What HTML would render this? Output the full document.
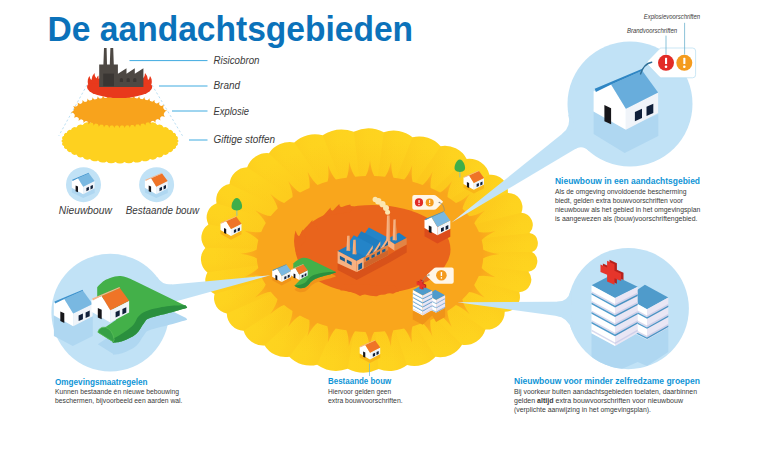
<!DOCTYPE html>
<html lang="nl"><head><meta charset="utf-8"><title>De aandachtsgebieden</title>
<style>
html,body{margin:0;padding:0;background:#fff;}
body{width:770px;height:450px;overflow:hidden;font-family:"Liberation Sans",sans-serif;}
svg{display:block;}
</style></head><body>
<svg width="770" height="450" viewBox="0 0 770 450" font-family="'Liberation Sans', sans-serif">
<defs>
<radialGradient id="gy" cx="370" cy="251" r="1" gradientUnits="userSpaceOnUse" gradientTransform="translate(370 251) scale(170 122) translate(-370 -251)"><stop offset="0.66" stop-color="#fdcc1d"/><stop offset="0.92" stop-color="#fed41f"/></radialGradient>
<linearGradient id="b1" x1="170" y1="295" x2="272" y2="276" gradientUnits="userSpaceOnUse"><stop offset="0" stop-color="#c1e2f6"/><stop offset="0.75" stop-color="#c1e2f6"/><stop offset="1" stop-color="#d9edf9"/></linearGradient>
<linearGradient id="b2" x1="575" y1="134" x2="452" y2="221" gradientUnits="userSpaceOnUse"><stop offset="0" stop-color="#c1e2f6"/><stop offset="0.75" stop-color="#c1e2f6"/><stop offset="1" stop-color="#d9edf9"/></linearGradient>
<linearGradient id="b3" x1="568" y1="312" x2="456" y2="301" gradientUnits="userSpaceOnUse"><stop offset="0" stop-color="#c1e2f6"/><stop offset="0.75" stop-color="#c1e2f6"/><stop offset="1" stop-color="#d9edf9"/></linearGradient>
<radialGradient id="gs" cx="370" cy="254" r="1" gradientUnits="userSpaceOnUse" gradientTransform="translate(370 254) scale(130.5 95) translate(-370 -254)"><stop offset="0.86" stop-color="#f9a61c"/><stop offset="1" stop-color="#fcba1d"/></radialGradient>
</defs>
<circle cx="110.2" cy="312.6" r="58.8" fill="#c1e2f6"/>
<circle cx="630" cy="104" r="62.5" fill="#c1e2f6"/>
<circle cx="628.3" cy="308.6" r="60.6" fill="#c1e2f6"/>
<path d="M353.8,131.8A35.3,35.3 0 0 0 322.7,135.3A29.9,29.9 0 0 0 294.3,142.5A25.2,25.2 0 0 0 269,153.2A21.2,21.2 0 0 0 247.2,167.2A18.1,18.1 0 0 0 229.6,184A16,16 0 0 0 216.6,203.2A15,15 0 0 0 208.4,224.4A15.7,15.7 0 0 0 205.3,247.9A16.7,16.7 0 0 0 207.4,272.4A14.9,14.9 0 0 0 214.6,293.9A15.7,15.7 0 0 0 226.8,313.6A17.6,17.6 0 0 0 243.6,330.8A20.6,20.6 0 0 0 264.6,345.4A24.4,24.4 0 0 0 289.3,356.8A29,29 0 0 0 317.1,364.7A34.2,34.2 0 0 0 347.7,368.8A34.7,34.7 0 0 0 378.6,369.1A29.7,29.7 0 0 0 407.1,365.1A29,29 0 0 0 435.5,356.8A25.5,25.5 0 0 0 462,344.8A21.4,21.4 0 0 0 485.4,329.5A17.7,17.7 0 0 0 504.7,311.7A14.8,14.8 0 0 0 519.2,292.2A12.5,12.5 0 0 0 528.4,271.8A10.6,10.6 0 0 0 531.9,252.1A10,10 0 0 0 529.5,233.1A12.2,12.2 0 0 0 521.4,212.7A14.3,14.3 0 0 0 507.9,192.9A17.1,17.1 0 0 0 489.4,174.7A20.7,20.7 0 0 0 466.7,158.9A24.8,24.8 0 0 0 440.7,146.2A28.5,28.5 0 0 0 412.5,137.2A30,30 0 0 0 383.8,132.3A32.8,32.8 0 0 0 353.8,131.8Z" fill="url(#gy)"/>
<linearGradient id="p0" gradientUnits="userSpaceOnUse" x1="353.8" y1="131.8" x2="322.7" y2="135.3"><stop offset="0" stop-color="#f8b517" stop-opacity="0"/><stop offset="0.55" stop-color="#f8b517" stop-opacity="0.04"/><stop offset="1" stop-color="#f8b517" stop-opacity="0.17"/></linearGradient>
<linearGradient id="p1" gradientUnits="userSpaceOnUse" x1="322.7" y1="135.3" x2="294.3" y2="142.5"><stop offset="0" stop-color="#f8b517" stop-opacity="0"/><stop offset="0.55" stop-color="#f8b517" stop-opacity="0.04"/><stop offset="1" stop-color="#f8b517" stop-opacity="0.17"/></linearGradient>
<linearGradient id="p2" gradientUnits="userSpaceOnUse" x1="294.3" y1="142.5" x2="269" y2="153.2"><stop offset="0" stop-color="#f8b517" stop-opacity="0"/><stop offset="0.55" stop-color="#f8b517" stop-opacity="0.04"/><stop offset="1" stop-color="#f8b517" stop-opacity="0.17"/></linearGradient>
<linearGradient id="p3" gradientUnits="userSpaceOnUse" x1="269" y1="153.2" x2="247.2" y2="167.2"><stop offset="0" stop-color="#f8b517" stop-opacity="0"/><stop offset="0.55" stop-color="#f8b517" stop-opacity="0.04"/><stop offset="1" stop-color="#f8b517" stop-opacity="0.17"/></linearGradient>
<linearGradient id="p4" gradientUnits="userSpaceOnUse" x1="247.2" y1="167.2" x2="229.6" y2="184"><stop offset="0" stop-color="#f8b517" stop-opacity="0"/><stop offset="0.55" stop-color="#f8b517" stop-opacity="0.04"/><stop offset="1" stop-color="#f8b517" stop-opacity="0.17"/></linearGradient>
<linearGradient id="p5" gradientUnits="userSpaceOnUse" x1="229.6" y1="184" x2="216.6" y2="203.2"><stop offset="0" stop-color="#f8b517" stop-opacity="0"/><stop offset="0.55" stop-color="#f8b517" stop-opacity="0.04"/><stop offset="1" stop-color="#f8b517" stop-opacity="0.17"/></linearGradient>
<linearGradient id="p6" gradientUnits="userSpaceOnUse" x1="216.6" y1="203.2" x2="208.4" y2="224.4"><stop offset="0" stop-color="#f8b517" stop-opacity="0"/><stop offset="0.55" stop-color="#f8b517" stop-opacity="0.04"/><stop offset="1" stop-color="#f8b517" stop-opacity="0.17"/></linearGradient>
<linearGradient id="p7" gradientUnits="userSpaceOnUse" x1="208.4" y1="224.4" x2="205.3" y2="247.9"><stop offset="0" stop-color="#f8b517" stop-opacity="0"/><stop offset="0.55" stop-color="#f8b517" stop-opacity="0.04"/><stop offset="1" stop-color="#f8b517" stop-opacity="0.17"/></linearGradient>
<linearGradient id="p8" gradientUnits="userSpaceOnUse" x1="205.3" y1="247.9" x2="207.4" y2="272.4"><stop offset="0" stop-color="#f8b517" stop-opacity="0"/><stop offset="0.55" stop-color="#f8b517" stop-opacity="0.04"/><stop offset="1" stop-color="#f8b517" stop-opacity="0.17"/></linearGradient>
<linearGradient id="p9" gradientUnits="userSpaceOnUse" x1="207.4" y1="272.4" x2="214.6" y2="293.9"><stop offset="0" stop-color="#f8b517" stop-opacity="0"/><stop offset="0.55" stop-color="#f8b517" stop-opacity="0.04"/><stop offset="1" stop-color="#f8b517" stop-opacity="0.17"/></linearGradient>
<linearGradient id="p10" gradientUnits="userSpaceOnUse" x1="214.6" y1="293.9" x2="226.8" y2="313.6"><stop offset="0" stop-color="#f8b517" stop-opacity="0"/><stop offset="0.55" stop-color="#f8b517" stop-opacity="0.04"/><stop offset="1" stop-color="#f8b517" stop-opacity="0.17"/></linearGradient>
<linearGradient id="p11" gradientUnits="userSpaceOnUse" x1="226.8" y1="313.6" x2="243.6" y2="330.8"><stop offset="0" stop-color="#f8b517" stop-opacity="0"/><stop offset="0.55" stop-color="#f8b517" stop-opacity="0.04"/><stop offset="1" stop-color="#f8b517" stop-opacity="0.17"/></linearGradient>
<linearGradient id="p12" gradientUnits="userSpaceOnUse" x1="243.6" y1="330.8" x2="264.6" y2="345.4"><stop offset="0" stop-color="#f8b517" stop-opacity="0"/><stop offset="0.55" stop-color="#f8b517" stop-opacity="0.04"/><stop offset="1" stop-color="#f8b517" stop-opacity="0.17"/></linearGradient>
<linearGradient id="p13" gradientUnits="userSpaceOnUse" x1="264.6" y1="345.4" x2="289.3" y2="356.8"><stop offset="0" stop-color="#f8b517" stop-opacity="0"/><stop offset="0.55" stop-color="#f8b517" stop-opacity="0.04"/><stop offset="1" stop-color="#f8b517" stop-opacity="0.17"/></linearGradient>
<linearGradient id="p14" gradientUnits="userSpaceOnUse" x1="289.3" y1="356.8" x2="317.1" y2="364.7"><stop offset="0" stop-color="#f8b517" stop-opacity="0"/><stop offset="0.55" stop-color="#f8b517" stop-opacity="0.04"/><stop offset="1" stop-color="#f8b517" stop-opacity="0.17"/></linearGradient>
<linearGradient id="p15" gradientUnits="userSpaceOnUse" x1="317.1" y1="364.7" x2="347.7" y2="368.8"><stop offset="0" stop-color="#f8b517" stop-opacity="0"/><stop offset="0.55" stop-color="#f8b517" stop-opacity="0.04"/><stop offset="1" stop-color="#f8b517" stop-opacity="0.17"/></linearGradient>
<linearGradient id="p16" gradientUnits="userSpaceOnUse" x1="347.7" y1="368.8" x2="378.6" y2="369.1"><stop offset="0" stop-color="#f8b517" stop-opacity="0"/><stop offset="0.55" stop-color="#f8b517" stop-opacity="0.04"/><stop offset="1" stop-color="#f8b517" stop-opacity="0.17"/></linearGradient>
<linearGradient id="p17" gradientUnits="userSpaceOnUse" x1="378.6" y1="369.1" x2="407.1" y2="365.1"><stop offset="0" stop-color="#f8b517" stop-opacity="0"/><stop offset="0.55" stop-color="#f8b517" stop-opacity="0.04"/><stop offset="1" stop-color="#f8b517" stop-opacity="0.17"/></linearGradient>
<linearGradient id="p18" gradientUnits="userSpaceOnUse" x1="407.1" y1="365.1" x2="435.5" y2="356.8"><stop offset="0" stop-color="#f8b517" stop-opacity="0"/><stop offset="0.55" stop-color="#f8b517" stop-opacity="0.04"/><stop offset="1" stop-color="#f8b517" stop-opacity="0.17"/></linearGradient>
<linearGradient id="p19" gradientUnits="userSpaceOnUse" x1="435.5" y1="356.8" x2="462" y2="344.8"><stop offset="0" stop-color="#f8b517" stop-opacity="0"/><stop offset="0.55" stop-color="#f8b517" stop-opacity="0.04"/><stop offset="1" stop-color="#f8b517" stop-opacity="0.17"/></linearGradient>
<linearGradient id="p20" gradientUnits="userSpaceOnUse" x1="462" y1="344.8" x2="485.4" y2="329.5"><stop offset="0" stop-color="#f8b517" stop-opacity="0"/><stop offset="0.55" stop-color="#f8b517" stop-opacity="0.04"/><stop offset="1" stop-color="#f8b517" stop-opacity="0.17"/></linearGradient>
<linearGradient id="p21" gradientUnits="userSpaceOnUse" x1="485.4" y1="329.5" x2="504.7" y2="311.7"><stop offset="0" stop-color="#f8b517" stop-opacity="0"/><stop offset="0.55" stop-color="#f8b517" stop-opacity="0.04"/><stop offset="1" stop-color="#f8b517" stop-opacity="0.17"/></linearGradient>
<linearGradient id="p22" gradientUnits="userSpaceOnUse" x1="504.7" y1="311.7" x2="519.2" y2="292.2"><stop offset="0" stop-color="#f8b517" stop-opacity="0"/><stop offset="0.55" stop-color="#f8b517" stop-opacity="0.04"/><stop offset="1" stop-color="#f8b517" stop-opacity="0.17"/></linearGradient>
<linearGradient id="p23" gradientUnits="userSpaceOnUse" x1="519.2" y1="292.2" x2="528.4" y2="271.8"><stop offset="0" stop-color="#f8b517" stop-opacity="0"/><stop offset="0.55" stop-color="#f8b517" stop-opacity="0.04"/><stop offset="1" stop-color="#f8b517" stop-opacity="0.17"/></linearGradient>
<linearGradient id="p24" gradientUnits="userSpaceOnUse" x1="528.4" y1="271.8" x2="531.9" y2="252.1"><stop offset="0" stop-color="#f8b517" stop-opacity="0"/><stop offset="0.55" stop-color="#f8b517" stop-opacity="0.04"/><stop offset="1" stop-color="#f8b517" stop-opacity="0.17"/></linearGradient>
<linearGradient id="p25" gradientUnits="userSpaceOnUse" x1="531.9" y1="252.1" x2="529.5" y2="233.1"><stop offset="0" stop-color="#f8b517" stop-opacity="0"/><stop offset="0.55" stop-color="#f8b517" stop-opacity="0.04"/><stop offset="1" stop-color="#f8b517" stop-opacity="0.17"/></linearGradient>
<linearGradient id="p26" gradientUnits="userSpaceOnUse" x1="529.5" y1="233.1" x2="521.4" y2="212.7"><stop offset="0" stop-color="#f8b517" stop-opacity="0"/><stop offset="0.55" stop-color="#f8b517" stop-opacity="0.04"/><stop offset="1" stop-color="#f8b517" stop-opacity="0.17"/></linearGradient>
<linearGradient id="p27" gradientUnits="userSpaceOnUse" x1="521.4" y1="212.7" x2="507.9" y2="192.9"><stop offset="0" stop-color="#f8b517" stop-opacity="0"/><stop offset="0.55" stop-color="#f8b517" stop-opacity="0.04"/><stop offset="1" stop-color="#f8b517" stop-opacity="0.17"/></linearGradient>
<linearGradient id="p28" gradientUnits="userSpaceOnUse" x1="507.9" y1="192.9" x2="489.4" y2="174.7"><stop offset="0" stop-color="#f8b517" stop-opacity="0"/><stop offset="0.55" stop-color="#f8b517" stop-opacity="0.04"/><stop offset="1" stop-color="#f8b517" stop-opacity="0.17"/></linearGradient>
<linearGradient id="p29" gradientUnits="userSpaceOnUse" x1="489.4" y1="174.7" x2="466.7" y2="158.9"><stop offset="0" stop-color="#f8b517" stop-opacity="0"/><stop offset="0.55" stop-color="#f8b517" stop-opacity="0.04"/><stop offset="1" stop-color="#f8b517" stop-opacity="0.17"/></linearGradient>
<linearGradient id="p30" gradientUnits="userSpaceOnUse" x1="466.7" y1="158.9" x2="440.7" y2="146.2"><stop offset="0" stop-color="#f8b517" stop-opacity="0"/><stop offset="0.55" stop-color="#f8b517" stop-opacity="0.04"/><stop offset="1" stop-color="#f8b517" stop-opacity="0.17"/></linearGradient>
<linearGradient id="p31" gradientUnits="userSpaceOnUse" x1="440.7" y1="146.2" x2="412.5" y2="137.2"><stop offset="0" stop-color="#f8b517" stop-opacity="0"/><stop offset="0.55" stop-color="#f8b517" stop-opacity="0.04"/><stop offset="1" stop-color="#f8b517" stop-opacity="0.17"/></linearGradient>
<linearGradient id="p32" gradientUnits="userSpaceOnUse" x1="412.5" y1="137.2" x2="383.8" y2="132.3"><stop offset="0" stop-color="#f8b517" stop-opacity="0"/><stop offset="0.55" stop-color="#f8b517" stop-opacity="0.04"/><stop offset="1" stop-color="#f8b517" stop-opacity="0.17"/></linearGradient>
<linearGradient id="p33" gradientUnits="userSpaceOnUse" x1="383.8" y1="132.3" x2="353.8" y2="131.8"><stop offset="0" stop-color="#f8b517" stop-opacity="0"/><stop offset="0.55" stop-color="#f8b517" stop-opacity="0.04"/><stop offset="1" stop-color="#f8b517" stop-opacity="0.17"/></linearGradient>
<clipPath id="cb"><path d="M353.8,131.8A35.3,35.3 0 0 0 322.7,135.3A29.9,29.9 0 0 0 294.3,142.5A25.2,25.2 0 0 0 269,153.2A21.2,21.2 0 0 0 247.2,167.2A18.1,18.1 0 0 0 229.6,184A16,16 0 0 0 216.6,203.2A15,15 0 0 0 208.4,224.4A15.7,15.7 0 0 0 205.3,247.9A16.7,16.7 0 0 0 207.4,272.4A14.9,14.9 0 0 0 214.6,293.9A15.7,15.7 0 0 0 226.8,313.6A17.6,17.6 0 0 0 243.6,330.8A20.6,20.6 0 0 0 264.6,345.4A24.4,24.4 0 0 0 289.3,356.8A29,29 0 0 0 317.1,364.7A34.2,34.2 0 0 0 347.7,368.8A34.7,34.7 0 0 0 378.6,369.1A29.7,29.7 0 0 0 407.1,365.1A29,29 0 0 0 435.5,356.8A25.5,25.5 0 0 0 462,344.8A21.4,21.4 0 0 0 485.4,329.5A17.7,17.7 0 0 0 504.7,311.7A14.8,14.8 0 0 0 519.2,292.2A12.5,12.5 0 0 0 528.4,271.8A10.6,10.6 0 0 0 531.9,252.1A10,10 0 0 0 529.5,233.1A12.2,12.2 0 0 0 521.4,212.7A14.3,14.3 0 0 0 507.9,192.9A17.1,17.1 0 0 0 489.4,174.7A20.7,20.7 0 0 0 466.7,158.9A24.8,24.8 0 0 0 440.7,146.2A28.5,28.5 0 0 0 412.5,137.2A30,30 0 0 0 383.8,132.3A32.8,32.8 0 0 0 353.8,131.8Z"/></clipPath>
<g clip-path="url(#cb)"><polygon points="352.7,122.3 319.1,126 339.9,179.1 359.2,176.9" fill="url(#p0)"/><polygon points="319.1,126 288.4,133.8 322.3,183.5 339.9,179.1" fill="url(#p1)"/><polygon points="288.4,133.8 261.1,145.4 306.6,190.2 322.3,183.5" fill="url(#p2)"/><polygon points="261.1,145.4 237.6,160.5 293.1,198.8 306.6,190.2" fill="url(#p3)"/><polygon points="237.6,160.5 218.5,178.7 282.2,209.3 293.1,198.8" fill="url(#p4)"/><polygon points="218.5,178.7 204.4,199.4 274.1,221.2 282.2,209.3" fill="url(#p5)"/><polygon points="204.4,199.4 195.6,222.3 269,234.3 274.1,221.2" fill="url(#p6)"/><polygon points="195.6,222.3 192.3,247.7 267.1,248.9 269,234.3" fill="url(#p7)"/><polygon points="192.3,247.7 194.6,274.1 268.4,264 267.1,248.9" fill="url(#p8)"/><polygon points="194.6,274.1 202.4,297.4 272.9,277.4 268.4,264" fill="url(#p9)"/><polygon points="202.4,297.4 215.5,318.6 280.4,289.6 272.9,277.4" fill="url(#p10)"/><polygon points="215.5,318.6 233.6,337.3 290.9,300.3 280.4,289.6" fill="url(#p11)"/><polygon points="233.6,337.3 256.3,353 303.9,309.3 290.9,300.3" fill="url(#p12)"/><polygon points="256.3,353 283,365.3 319.2,316.4 303.9,309.3" fill="url(#p13)"/><polygon points="283,365.3 313,373.8 336.5,321.3 319.2,316.4" fill="url(#p14)"/><polygon points="313,373.8 346.1,378.3 355.4,323.9 336.5,321.3" fill="url(#p15)"/><polygon points="346.1,378.3 379.4,378.6 374.5,324 355.4,323.9" fill="url(#p16)"/><polygon points="379.4,378.6 410.2,374.3 392.2,321.5 374.5,324" fill="url(#p17)"/><polygon points="410.2,374.3 440.9,365.3 409.9,316.4 392.2,321.5" fill="url(#p18)"/><polygon points="440.9,365.3 469.5,352.3 426.3,309 409.9,316.4" fill="url(#p19)"/><polygon points="469.5,352.3 494.8,335.8 440.8,299.5 426.3,309" fill="url(#p20)"/><polygon points="494.8,335.8 515.7,316.6 452.8,288.5 440.8,299.5" fill="url(#p21)"/><polygon points="515.7,316.6 531.3,295.5 461.8,276.3 452.8,288.5" fill="url(#p22)"/><polygon points="531.3,295.5 541.2,273.5 467.5,263.7 461.8,276.3" fill="url(#p23)"/><polygon points="541.2,273.5 545,252.2 469.6,251.5 467.5,263.7" fill="url(#p24)"/><polygon points="545,252.2 542.4,231.7 468.1,239.7 469.6,251.5" fill="url(#p25)"/><polygon points="542.4,231.7 533.7,209.6 463.1,227 468.1,239.7" fill="url(#p26)"/><polygon points="533.7,209.6 519.1,188.3 454.7,214.8 463.1,227" fill="url(#p27)"/><polygon points="519.1,188.3 499.1,168.6 443.3,203.5 454.7,214.8" fill="url(#p28)"/><polygon points="499.1,168.6 474.6,151.5 429.2,193.7 443.3,203.5" fill="url(#p29)"/><polygon points="474.6,151.5 446.5,137.8 413.1,185.8 429.2,193.7" fill="url(#p30)"/><polygon points="446.5,137.8 416.1,128.1 395.6,180.2 413.1,185.8" fill="url(#p31)"/><polygon points="416.1,128.1 385.1,122.8 377.8,177.2 395.6,180.2" fill="url(#p32)"/><polygon points="385.1,122.8 352.7,122.3 359.2,176.9 377.8,177.2" fill="url(#p33)"/></g>
<path d="M374.3,176.1Q371.3,171.2 370,160Q368.7,171.2 365.7,176.1A113.5,78 0 0 0 355.2,176.7Q351.6,172.2 349,161.2Q349,172.5 346.6,177.7A113.5,78 0 0 0 335.9,179.6Q331.9,175.6 327.9,165Q329.3,176.2 327.6,181.6A113.5,78 0 0 0 317.5,184.9Q312.9,181.4 307.5,171.5Q310.4,182.4 309.5,188A113.5,78 0 0 0 300.1,192.6Q295,189.9 288.2,180.9Q292.7,191.2 292.6,196.9A113.5,78 0 0 0 284.1,203Q278.7,201.3 270.3,193.7Q276.6,203 277.7,208.6A113.5,78 0 0 0 270.8,216.1Q265.1,215.7 255.2,210.2Q263.5,217.9 265.8,223.1A113.5,78 0 0 0 261.2,231.9Q255.5,233 244.5,230.7Q254.6,235.7 258.3,240A113.5,78 0 0 0 256.7,249.6Q251.7,252.4 240.5,253.8Q251.7,255.3 256.7,258.2A113.5,78 0 0 0 258.3,267.9Q254.6,272.2 244.4,277.1Q255.5,274.8 261.1,276A113.5,78 0 0 0 265.7,284.8Q263.4,290 255,297.6Q265,292.2 270.7,291.8A113.5,78 0 0 0 277.5,299.2Q276.5,304.8 270.1,314.2Q278.5,306.6 284,304.9A113.5,78 0 0 0 292.5,311Q292.5,316.7 288,327Q294.9,318 299.9,315.4A113.5,78 0 0 0 309.3,319.9Q310.2,325.5 307.3,336.4Q312.7,326.5 317.3,323.1A113.5,78 0 0 0 327.4,326.3Q329.1,331.7 327.7,342.9Q331.7,332.4 335.8,328.4A113.5,78 0 0 0 346.4,330.3Q348.8,335.5 348.8,346.8Q351.4,335.8 355,331.3A113.5,78 0 0 0 365.5,331.9Q368.5,336.8 369.8,348Q371.1,336.8 374.1,331.9A113.5,78 0 0 0 384.8,331.3Q388.4,335.8 391,346.8Q391,335.5 393.4,330.3A113.5,78 0 0 0 404.1,328.4Q408.1,332.4 412.1,343Q410.7,331.8 412.4,326.4A113.5,78 0 0 0 422.5,323.1Q427.1,326.6 432.5,336.5Q429.6,325.6 430.5,320A113.5,78 0 0 0 439.9,315.4Q445,318.1 451.8,327.1Q447.3,316.8 447.4,311.1A113.5,78 0 0 0 455.9,305Q461.3,306.7 469.7,314.3Q463.4,305 462.3,299.4A113.5,78 0 0 0 469.2,291.9Q474.9,292.3 484.8,297.8Q476.5,290.1 474.2,284.9A113.5,78 0 0 0 478.8,276.1Q484.5,275 495.5,277.3Q485.4,272.3 481.7,268A113.5,78 0 0 0 483.3,258.3Q488.3,255.4 499.5,254Q488.3,252.6 483.3,249.7A113.5,78 0 0 0 481.7,240.1Q485.4,235.8 495.6,230.9Q484.5,233.2 478.9,232A113.5,78 0 0 0 474.3,223.2Q476.6,218 485,210.4Q475,215.8 469.3,216.2A113.5,78 0 0 0 462.5,208.8Q463.5,203.2 469.9,193.8Q461.5,201.4 456,203.1A113.5,78 0 0 0 447.5,197Q447.5,191.3 452,181Q445.1,190 440.1,192.6A113.5,78 0 0 0 430.7,188.1Q429.8,182.5 432.7,171.6Q427.3,181.5 422.7,184.9A113.5,78 0 0 0 412.6,181.7Q410.9,176.3 412.3,165.1Q408.3,175.6 404.2,179.6A113.5,78 0 0 0 393.6,177.7Q391.2,172.5 391.2,161.2Q388.6,172.2 385,176.7A113.5,78 0 0 0 374.3,176.1Z" fill="url(#gs)"/>
<ellipse cx="373" cy="249.5" rx="77.5" ry="44.5" fill="#e9641c"/>
<path d="M295.6,252 Q292.5,240 295.6,230.5 Q297.5,237 300,236 Q300.5,232 303,229.5 L306,240 Z" fill="#e9641c"/>
<path d="M323,216 Q326.5,212 330.5,207.5 Q330.5,211 333,210.5 Q336,207 339.3,204 Q339.5,207.5 342,207 Q346,205.5 350.3,204.6 Q350,206.5 354,206.5 L350,212 Z" fill="#e9641c"/>
<path d="M306,230 Q308,224 312.5,220 Q312,224 315,224 L318,230 Z" fill="#e9641c"/>
<path d="M340,290 Q343,291.5 345.7,288.5 Q347,292 351,292 Q356,293.5 360,296 Q362,294.5 365,294.5 Q371,296.5 377,296.3 Q379,294.5 382,294.8 Q385,295 387.5,293.5 Q391,293 393,293.8 Q396,292 399,291.5 L395,286 L345,284 Z" fill="#e9641c"/>
<path d="M300,270 Q297,268 296,263 Q299,266 301,264.5 L306,270 Z" fill="#e9641c"/>
<polygon points="150,286.6 150,308.4 270.5,275.3" fill="url(#b1)"/><path d="M172.3,284.5 Q162.4,285.4 157,277 L156.3,278.4 L160.1,289.9 L171.6,285.9 Z" fill="#c1e2f6"/>
<polygon points="590,111.5 600,134.2 451.2,222.8" fill="url(#b2)"/><path d="M562.2,133.8 Q571.6,126.3 568.4,114.7 L569.9,115.2 L576.4,127.8 L563.7,134.2 Z" fill="#c1e2f6"/><path d="M574.8,149.2 Q582.5,144.6 588.8,151 L589,149.5 L583.1,139.7 L575,147.7 Z" fill="#c1e2f6"/>
<polygon points="590,301.5 590,320.6 457.3,302.2" fill="url(#b3)"/><path d="M557.1,301.7 Q568.1,301.6 570.4,290.9 L571.3,292 L571.3,305.5 L558.1,302.8 Z" fill="#c1e2f6"/><path d="M555.5,315.8 Q568.4,317.6 571.7,330.2 L572.7,329 L571.7,313.9 L556.5,314.7 Z" fill="#c1e2f6"/>
<polygon points="220.5,230 231,235.9 241.5,230.5 241.5,234.3 231,239.8 220.5,233.9" fill="#f9b618" /><polygon points="220.5,223.4 226.2,221.2 231,229.1 231,235.9 220.5,230" fill="#ffffff" /><polygon points="231,229.1 241.5,223.8 241.5,230.5 231,235.9" fill="#f0f4f9" /><polygon points="226.2,221.2 236.3,216.8 241.5,223.8 231,229.1" fill="#ef7427" /><polygon points="220.9,222.5 236.1,216.2 236.3,216.8 226.2,221.2 221.2,223.7" fill="#f6b68c" /><polygon points="224,227.9 226.2,228.9 226.2,234.1 224,233.1" fill="#17161a" /><polygon points="233.9,230.1 236.2,229.1 236.2,232.1 233.9,233.1" fill="#10203a" /><polygon points="237.7,228.4 239.9,227.4 239.9,230.5 237.7,231.5" fill="#10203a" />
<rect x="236.2" y="204.2" width="1.3" height="11.6" fill="#a9c48c"/><path d="M236.8,197.9 C240.3,197.9 243.3,205.8 241.6,208.5 C239.7,211 233.9,211 232,208.5 C230.3,205.8 233.3,197.9 236.8,197.9 Z" fill="#3fae4a"/>
<polygon points="463.5,184 473.8,189.8 484,184.4 484,188.2 473.8,193.5 463.5,187.8" fill="#f9b618" /><polygon points="463.5,177.5 469.1,175.4 473.8,183.1 473.8,189.8 463.5,184" fill="#ffffff" /><polygon points="473.8,183.1 484,178 484,184.4 473.8,189.8" fill="#f0f4f9" /><polygon points="469.1,175.4 479,171 484,178 473.8,183.1" fill="#ef7427" /><polygon points="463.9,176.7 478.8,170.5 479,171 469.1,175.4 464.2,177.8" fill="#f6b68c" /><polygon points="466.9,181.9 469.1,182.9 469.1,188.1 466.9,187.1" fill="#17161a" /><polygon points="476.6,184.1 478.9,183.1 478.9,186.1 476.6,187.1" fill="#10203a" /><polygon points="480.3,182.5 482.5,181.5 482.5,184.4 480.3,185.4" fill="#10203a" />
<rect x="459.2" y="165.8" width="1.3" height="11.6" fill="#a9c48c"/><path d="M459.8,159.5 C463.3,159.5 466.3,167.4 464.6,170.1 C462.7,172.6 456.9,172.6 455,170.1 C453.3,167.4 456.3,159.5 459.8,159.5 Z" fill="#3fae4a"/>
<polygon points="359.7,353.6 370,359.4 380.2,354.1 380.2,357.8 370,363.1 359.7,357.4" fill="#f9b618" /><polygon points="359.7,347.1 365.3,345 370,352.7 370,359.4 359.7,353.6" fill="#ffffff" /><polygon points="370,352.7 380.2,347.6 380.2,354.1 370,359.4" fill="#f0f4f9" /><polygon points="365.3,345 375.2,340.6 380.2,347.6 370,352.7" fill="#ef7427" /><polygon points="360.1,346.3 375,340.1 375.2,340.6 365.3,345 360.4,347.4" fill="#f6b68c" /><polygon points="363.1,351.5 365.3,352.5 365.3,357.7 363.1,356.7" fill="#17161a" /><polygon points="372.8,353.7 375.1,352.7 375.1,355.7 372.8,356.7" fill="#10203a" /><polygon points="376.5,352.1 378.7,351.1 378.7,354.1 376.5,355" fill="#10203a" />
<line x1="369.5" y1="363.5" x2="369.5" y2="376" stroke="#63b9dd" stroke-width="0.7"/>
<polygon points="424.5,228.1 437.4,235.3 450.3,228.7 450.3,236.8 437.4,243.5 424.5,236.2" fill="#dc4c1b" /><polygon points="424.5,220 431.5,217.3 437.4,227 437.4,235.3 424.5,228.1" fill="#ffffff" /><polygon points="437.4,227 450.3,220.5 450.3,228.7 437.4,235.3" fill="#f0f4f9" /><polygon points="431.5,217.3 443.9,211.8 450.3,220.5 437.4,227" fill="#79b8e1" /><polygon points="425,218.9 443.7,211.2 443.9,211.8 431.5,217.3 425.4,220.3" fill="#3f93cd" /><polygon points="428.8,225.5 431.5,226.7 431.5,233.2 428.8,231.9" fill="#17161a" /><polygon points="441,228.2 443.8,227 443.8,230.7 441,231.9" fill="#10203a" /><polygon points="445.6,226.2 448.3,224.9 448.3,228.7 445.6,229.9" fill="#10203a" />
<polygon points="272.2,276.7 281.7,282 291.1,277.1 291.1,280.6 281.7,285.5 272.2,280.2" fill="#f09419" /><polygon points="272.2,270.7 277.3,268.7 281.7,275.9 281.7,282 272.2,276.7" fill="#ffffff" /><polygon points="281.7,275.9 291.1,271.1 291.1,277.1 281.7,282" fill="#f0f4f9" /><polygon points="277.3,268.7 286.5,264.7 291.1,271.1 281.7,275.9" fill="#79b8e1" /><polygon points="272.5,270 286.3,264.2 286.5,264.7 277.3,268.7 272.9,271" fill="#3f93cd" /><polygon points="275.4,274.8 277.3,275.7 277.3,280.4 275.4,279.5" fill="#17161a" /><polygon points="284.3,276.8 286.4,275.9 286.4,278.6 284.3,279.5" fill="#10203a" /><polygon points="287.7,275.3 289.7,274.4 289.7,277.1 287.7,278" fill="#10203a" />
<path d="M293.3,263.3 C294.1,262.8 296.1,260.9 297.8,260 C299.4,259.1 301.5,258 303.3,257.8 C305.2,257.6 306.9,258 308.9,258.7 C310.9,259.4 314.4,261.4 315.6,262 L335.6,271.7 L335.6,272.8 C334.4,273.1 331.1,274.1 328.9,274.7 C326.7,275.3 324.4,275.8 322.2,276.4 C320,277.1 317.4,277.8 315.6,278.7 C313.7,279.5 312.3,280.6 311.1,281.7 C309.9,282.7 309.4,284 308.3,285 C307.2,286 306,287.3 304.4,287.8 C302.9,288.3 300.6,288.4 298.9,288.1 C297.2,287.8 295.2,286.2 294.4,285.8 L302.2,277.8 L293.3,272.2 Z" fill="#f09419" transform="translate(0 4)"/><path d="M293.3,263.3 C294.1,262.8 296.1,260.9 297.8,260 C299.4,259.1 301.5,258 303.3,257.8 C305.2,257.6 306.9,258 308.9,258.7 C310.9,259.4 314.4,261.4 315.6,262 L335.6,271.7 L335.6,272.8 C334.4,273.1 331.1,274.1 328.9,274.7 C326.7,275.3 324.4,275.8 322.2,276.4 C320,277.1 317.4,277.8 315.6,278.7 C313.7,279.5 312.3,280.6 311.1,281.7 C309.9,282.7 309.4,284 308.3,285 C307.2,286 306,287.3 304.4,287.8 C302.9,288.3 300.6,288.4 298.9,288.1 C297.2,287.8 295.2,286.2 294.4,285.8 L302.2,277.8 L293.3,272.2 Z" fill="#43b049"/><path d="M335.6,272.8 C334.4,273.1 331.1,274.1 328.9,274.7 C326.7,275.3 324.4,275.8 322.2,276.4 C320,277.1 317.4,277.8 315.6,278.7 C313.7,279.5 312.3,280.6 311.1,281.7 C309.9,282.7 309.4,284 308.3,285 C307.2,286 306,287.3 304.4,287.8 C302.9,288.3 300.6,288.4 298.9,288.1 C297.2,287.8 295.2,286.2 294.4,285.8 L294.4,285.8 C294.8,285.7 295.6,285.6 296.7,285.3 C297.8,285.1 299.6,285 301.1,284.4 C302.6,283.9 304.4,283.1 305.6,282.2 C306.8,281.3 307.2,280.2 308.3,279.1 C309.4,278 310.5,276.7 312.2,275.8 C314,274.9 316.5,274.1 318.9,273.6 C321.3,273 323.9,272.5 326.7,272.2 C329.4,271.9 334.1,271.8 335.6,271.7 Z" fill="#2a8f3e"/>
<polygon points="290.8,269.9 295.4,268.1 299.2,274.5 299.2,279.9 290.8,275.2" fill="#ffffff" /><polygon points="299.2,274.5 307.7,270.2 307.7,275.6 299.2,279.9" fill="#f0f4f9" /><polygon points="295.4,268.1 303.5,264.5 307.7,270.2 299.2,274.5" fill="#ef7427" /><polygon points="291.1,269.2 303.4,264.1 303.5,264.5 295.4,268.1 291.4,270.1" fill="#f6b68c" /><polygon points="293.6,273.5 295.4,274.3 295.4,278.5 293.6,277.7" fill="#17161a" /><polygon points="301.6,275.3 303.5,274.5 303.5,276.9 301.6,277.7" fill="#10203a" /><polygon points="304.6,273.9 306.4,273.1 306.4,275.6 304.6,276.4" fill="#10203a" />
<polygon points="337.6,263.2 356.7,271.9 388.2,255.3 394.7,251.5 406.7,244.5 406.7,252.5 394.7,259.5 389.5,262.5 356.7,280 337.6,270" fill="#d8521a" /><polygon points="387,239 394.7,244.3 406.7,238 399,232.7" fill="#1f7dc0" /><polygon points="387,239 394.7,244.3 394.7,250.8 387,245.5" fill="#f6b283" /><polygon points="394.7,244.3 406.7,238 406.7,244.5 394.7,250.8" fill="#e28445" /><polygon points="337.6,251 356.7,261 388.2,244.7 369.1,234.7" fill="#1f7dc0" /><polygon points="337.6,251 356.7,261 356.7,271.9 337.6,263.2" fill="#f6b283" /><polygon points="356.7,261 388.2,244.7 388.2,255.3 356.7,271.9" fill="#e28445" /><polygon points="363.6,262.8 388.2,250 388.2,255.3 363.6,268.2" fill="#cf652b" /><polygon points="356.7,261 363.6,257.4 363.6,268.2 356.7,271.9" fill="#f6b283" /><polygon points="339.9,255.8 344.9,258.4 344.9,261.8 339.9,259.2" fill="#185c90" /><polygon points="346.8,259.4 351.7,262 351.7,265.4 346.8,262.8" fill="#185c90" /><polygon points="358.3,264.4 362.1,262.4 362.1,268.2 358.3,270.2" fill="#185c90" /><polygon points="366.1,258.3 369.3,256.7 369.3,259.5 366.1,261.1" fill="#185c90" /><polygon points="371.5,255.5 374.7,253.9 374.7,256.7 371.5,258.3" fill="#185c90" /><polygon points="376.9,252.8 380,251.1 380,253.9 376.9,255.6" fill="#185c90" /><polygon points="382.2,250 385.4,248.4 385.4,251.2 382.2,252.8" fill="#185c90" /><polygon points="380.3,248.8 387.9,237.4 368.8,227.4 361.2,238.8" fill="#2484c8" /><polygon points="380.3,248.8 387.9,244.9 387.9,237.4" fill="#f6b283" /><polygon points="384.1,246.8 387.9,244.9 387.9,240.7" fill="#185c90" /><polygon points="372.8,252.7 380.3,241.3 361.2,231.3 353.7,242.7" fill="#1f7dc0" /><polygon points="372.8,252.7 380.3,248.8 380.3,241.3" fill="#f6b283" /><polygon points="376.5,250.7 380.3,248.8 380.3,244.6" fill="#185c90" /><polygon points="365.2,256.6 372.8,245.2 353.7,235.2 346.1,246.6" fill="#2484c8" /><polygon points="365.2,256.6 372.8,252.7 372.8,245.2" fill="#f6b283" /><polygon points="369,254.6 372.8,252.7 372.8,248.6" fill="#185c90" /><polygon points="346.4,250.8 350.2,250.8 349.4,235.7 347.2,235.7" fill="#f6b283" /><polygon points="348.7,250.8 350.2,250.8 349.4,235.7 348.7,235.7" fill="#eb9a62" /><polygon points="352.5,254.2 356.3,254.2 355.5,239.7 353.3,239.7" fill="#f6b283" /><polygon points="354.8,254.2 356.3,254.2 355.5,239.7 354.8,239.7" fill="#eb9a62" /><polygon points="386.2,240.5 390.2,240.5 389.4,215.5 387,215.5" fill="#f6b283" /><polygon points="388.6,240.5 390.2,240.5 389.4,215.5 388.6,215.5" fill="#eb9a62" /><polygon points="392.6,240.2 396.6,240.2 395.8,219.5 393.4,219.5" fill="#f6b283" /><polygon points="395,240.2 396.6,240.2 395.8,219.5 395,219.5" fill="#eb9a62" /><circle cx="387.6" cy="212.2" r="2.5" fill="#fbe6b0"/><circle cx="386" cy="208" r="3" fill="#fbe6b0"/><circle cx="382.5" cy="204.2" r="3.1" fill="#fbe6b0"/><circle cx="378.3" cy="201.2" r="3.2" fill="#fbe6b0"/><circle cx="375.2" cy="199.4" r="2.6" fill="#fbe6b0"/>
<polygon points="412.8,310.2 422.7,315.5 432.2,310.1 436.1,312.8 445.1,307.8 445.1,317 436.1,322 432.2,315.6 422.7,324.8 412.8,319.4" fill="#f09419" /><polygon points="427.3,295.2 435.2,289.8 445.1,295.2 436.1,300.1" fill="#4f9bcb" /><polygon points="427.3,295.2 436.1,300.1 436.1,312.8 427.3,308.4" fill="#ffffff" /><polygon points="436.1,300.1 445.1,295.2 445.1,307.8 436.1,312.8" fill="#e9e6f4" /><polygon points="427.3,297.9 436.1,302.7 436.1,303.5 427.3,298.7" fill="#d9daee" /><polygon points="436.1,302.7 445.1,297.8 445.1,298.5 436.1,303.5" fill="#cfd0ea" /><polygon points="427.3,298.7 436.1,303.5 436.1,304.1 427.3,299.3" fill="#4f9bcb" /><polygon points="436.1,303.5 445.1,298.5 445.1,299.1 436.1,304.1" fill="#4a93c3" /><polygon points="427.3,302.3 436.1,307 436.1,307.7 427.3,303.1" fill="#d9daee" /><polygon points="436.1,307 445.1,302 445.1,302.7 436.1,307.7" fill="#cfd0ea" /><polygon points="427.3,303.1 436.1,307.7 436.1,308.3 427.3,303.7" fill="#4f9bcb" /><polygon points="436.1,307.7 445.1,302.7 445.1,303.3 436.1,308.3" fill="#4a93c3" /><polygon points="427.3,306.7 436.1,311.2 436.1,312 427.3,307.5" fill="#d9daee" /><polygon points="436.1,311.2 445.1,306.2 445.1,306.9 436.1,312" fill="#cfd0ea" /><polygon points="427.3,307.5 436.1,312 436.1,312.6 427.3,308.1" fill="#4f9bcb" /><polygon points="436.1,312 445.1,306.9 445.1,307.5 436.1,312.6" fill="#4a93c3" /><polygon points="412.8,290 421.5,285.5 432.2,290.7 422.7,295.4" fill="#4f9bcb" /><polygon points="412.8,290 422.7,295.4 422.7,315.5 412.8,310.2" fill="#ffffff" /><polygon points="422.7,295.4 432.2,290.7 432.2,310.1 422.7,315.5" fill="#e9e6f4" /><polygon points="412.8,292.5 422.7,297.9 422.7,298.6 412.8,293.2" fill="#d9daee" /><polygon points="422.7,297.9 432.2,293.1 432.2,293.8 422.7,298.6" fill="#cfd0ea" /><polygon points="412.8,293.2 422.7,298.6 422.7,299.3 412.8,294" fill="#4f9bcb" /><polygon points="422.7,298.6 432.2,293.8 432.2,294.5 422.7,299.3" fill="#4a93c3" /><polygon points="412.8,296.5 422.7,301.9 422.7,302.6 412.8,297.3" fill="#d9daee" /><polygon points="422.7,301.9 432.2,297 432.2,297.7 422.7,302.6" fill="#cfd0ea" /><polygon points="412.8,297.3 422.7,302.6 422.7,303.4 412.8,298" fill="#4f9bcb" /><polygon points="422.7,302.6 432.2,297.7 432.2,298.4 422.7,303.4" fill="#4a93c3" /><polygon points="412.8,300.6 422.7,305.9 422.7,306.7 412.8,301.3" fill="#d9daee" /><polygon points="422.7,305.9 432.2,300.8 432.2,301.5 422.7,306.7" fill="#cfd0ea" /><polygon points="412.8,301.3 422.7,306.7 422.7,307.4 412.8,302" fill="#4f9bcb" /><polygon points="422.7,306.7 432.2,301.5 432.2,302.2 422.7,307.4" fill="#4a93c3" /><polygon points="412.8,304.6 422.7,310 422.7,310.7 412.8,305.3" fill="#d9daee" /><polygon points="422.7,310 432.2,304.7 432.2,305.4 422.7,310.7" fill="#cfd0ea" /><polygon points="412.8,305.3 422.7,310.7 422.7,311.4 412.8,306" fill="#4f9bcb" /><polygon points="422.7,310.7 432.2,305.4 432.2,306.1 422.7,311.4" fill="#4a93c3" /><polygon points="412.8,308.6 422.7,314 422.7,314.7 412.8,309.4" fill="#d9daee" /><polygon points="422.7,314 432.2,308.6 432.2,309.3 422.7,314.7" fill="#cfd0ea" /><polygon points="420.4,279.3 423.5,280.7 423.5,283.5 426.2,284.8 426.2,287.9 423.5,286.6 423.5,289.4 420.4,288 420.4,285.2 417.6,284 417.6,280.9 420.4,282.1" fill="#b5221d" /><polygon points="419.4,279.8 422.5,281.2 422.5,283.9 425.2,285.2 425.2,288.3 422.5,287 422.5,289.8 419.4,288.4 419.4,285.6 416.6,284.4 416.6,281.3 419.4,282.5" fill="#e6352b" />
<path d="M414.3,195 h19.5 q1.5,0 2.6,1 l6.3,5.3 q0.6,0.7 -0.2,1.3 l-5.7,5.8 q-1.2,1.3 -3,1.3 h-19.5 q-2,0 -2,-2 v-10.7 q0,-2 2,-2z" fill="#fff6e8"/>
<circle cx="419" cy="202.4" r="4.1" fill="#e22b26"/><rect x="418.5" y="199.9" width="1.1" height="3.2" rx="0.3" fill="#fff"/><circle cx="419" cy="204.5" r="0.7" fill="#fff"/>
<circle cx="429.7" cy="202.4" r="4" fill="#f49b1e"/><rect x="429.2" y="199.9" width="1" height="3.1" rx="0.3" fill="#fff"/><circle cx="429.7" cy="204.4" r="0.6" fill="#fff"/>
<path d="M439.3,202.5 q4.5,1 5.2,8.5" fill="none" stroke="#8c8c80" stroke-width="0.7"/>
<circle cx="439.3" cy="202.5" r="0.8" fill="#8c8c80"/>
<path d="M436.2,267.4 h15.5 q2,0 2,2 v12.4 q0,2 -2,2 h-15.5 q-1.5,0 -2.5,-1 l-6.5,-6 q-1,-1.2 0,-2.3 l6.5,-6 q1,-1.1 2.5,-1.1z" fill="#fff6e8"/>
<circle cx="441.4" cy="275.3" r="5.3" fill="#f49b1e"/><rect x="440.7" y="272" width="1.4" height="4.1" rx="0.4" fill="#fff"/><circle cx="441.4" cy="277.9" r="0.8" fill="#fff"/>
<path d="M428.7,275 q-4,1 -6.7,7" fill="none" stroke="#8c8c80" stroke-width="0.7"/>
<circle cx="428.9" cy="275" r="0.8" fill="#8c8c80"/>
<polygon points="53.9,315.7 72.8,325.4 92.8,316.1 92.8,336 72.8,346 53.9,336" fill="#afd7f1" />
<path d="M97.2,287.2 C98.2,286.2 101,283 103,281.5 C105,280 107.4,279.1 109.4,278.3 C111.4,277.5 113.1,277 115,276.6 C116.9,276.2 118.6,275.9 120.6,276.1 C122.6,276.3 124.8,276.9 127,277.6 C129.2,278.4 132.8,280.1 133.9,280.6 L186.1,306.1 L187.2,307.7 C184.2,308.6 175.7,311 169.4,312.8 C163.1,314.6 153.7,316.6 149.4,318.3 C145.2,320 146.1,320.6 143.9,323.2 C141.7,325.8 139.6,330.9 136.1,333.9 C132.6,336.9 126.7,339.5 122.8,341 C118.9,342.5 114.5,342.5 112.8,342.8 L113.3,341.9 L97.8,332.2 L116,320 L110,302 L97.2,297 Z" fill="#afd7f1" transform="translate(0 12)"/>
<polygon points="53.8,303.1 64.3,299 73.2,313.6 73.2,326.2 53.8,315.3" fill="#ffffff" /><polygon points="73.2,313.6 92.6,303.9 92.6,316.2 73.2,326.2" fill="#f0f4f9" /><polygon points="64.3,299 83,290.8 92.6,303.9 73.2,313.6" fill="#79b8e1" /><polygon points="54.5,301.5 82.7,289.8 83,290.8 64.3,299 55.2,303.6" fill="#3f93cd" /><polygon points="60.3,311.4 64.3,313.3 64.3,322.9 60.3,321.1" fill="#17161a" /><polygon points="78.6,315.5 82.9,313.6 82.9,319.2 78.6,321.1" fill="#10203a" /><polygon points="85.6,312.4 89.7,310.5 89.7,316.2 85.6,318" fill="#10203a" />
<path d="M97.2,287.2 C98.2,286.2 101,283 103,281.5 C105,280 107.4,279.1 109.4,278.3 C111.4,277.5 113.1,277 115,276.6 C116.9,276.2 118.6,275.9 120.6,276.1 C122.6,276.3 124.8,276.9 127,277.6 C129.2,278.4 132.8,280.1 133.9,280.6 L186.1,306.1 L187.2,307.7 C184.2,308.6 175.7,311 169.4,312.8 C163.1,314.6 153.7,316.6 149.4,318.3 C145.2,320 146.1,320.6 143.9,323.2 C141.7,325.8 139.6,330.9 136.1,333.9 C132.6,336.9 126.7,339.5 122.8,341 C118.9,342.5 114.5,342.5 112.8,342.8 L113.3,341.9 L97.8,332.2 L116,320 L110,302 L97.2,297 Z" fill="#43b049"/><path d="M187.2,307.7 C184.2,308.6 175.7,311 169.4,312.8 C163.1,314.6 153.7,316.6 149.4,318.3 C145.2,320 146.1,320.6 143.9,323.2 C141.7,325.8 139.6,330.9 136.1,333.9 C132.6,336.9 126.7,339.5 122.8,341 C118.9,342.5 114.5,342.5 112.8,342.8 L111.2,339.5 C112.5,338.8 115.9,337.6 119.5,335.3 C123.1,333 129.6,328.7 132.8,325.5 C136,322.3 136.2,318.4 138.9,315.9 C141.7,313.3 144.3,311.7 149.4,310.1 C154.5,308.4 163.4,306.8 169.4,306.1 C175.4,305.3 182.9,305.4 185.6,305.3 Z" fill="#2a8f3e"/><path d="M97.8,332.2 Q99.5,326.3 105.5,327.3 Q112.3,329.3 114.2,339.6 L113.3,341.9 Z" fill="#36a046" stroke="#5dbf5c" stroke-width="0.7"/>
<polygon points="91.5,299.9 101.7,296 110.3,310.2 110.3,322.4 91.5,311.8" fill="#ffffff" /><polygon points="110.3,310.2 129.1,300.7 129.1,312.6 110.3,322.4" fill="#f0f4f9" /><polygon points="101.7,296 119.9,288 129.1,300.7 110.3,310.2" fill="#ef7427" /><polygon points="92.2,298.4 119.5,287.1 119.9,288 101.7,296 92.8,300.4" fill="#f6b68c" /><polygon points="97.8,308 101.7,309.8 101.7,319.2 97.8,317.4" fill="#17161a" /><polygon points="115.6,312 119.7,310.2 119.7,315.6 115.6,317.4" fill="#10203a" /><polygon points="122.4,309 126.3,307.2 126.3,312.6 122.4,314.4" fill="#10203a" />
<polygon points="593.6,111.6 624.7,129 658.3,114 658.3,136 624.7,153 593.6,134" fill="#afd7f1" />
<polygon points="593.6,91.2 611.1,84.4 625.9,108.8 625.9,129.7 593.6,111.6" fill="#ffffff" /><polygon points="625.9,108.8 658.1,92.6 658.1,113 625.9,129.7" fill="#f0f4f9" /><polygon points="611.1,84.4 642.3,70.8 658.1,92.6 625.9,108.8" fill="#68addc" /><polygon points="594.7,88.7 641.7,69.1 642.3,70.8 611.1,84.4 595.9,92.1" fill="#2f86c4" /><polygon points="604.4,105.1 611.1,108.2 611.1,124.3 604.4,121.2" fill="#17161a" /><polygon points="634.9,111.9 642,108.8 642,118.1 634.9,121.2" fill="#10203a" /><polygon points="646.5,106.8 653.3,103.7 653.3,113 646.5,116.1" fill="#10203a" />
<path d="M661.5,48 H692.6 q3,0 3,3 V74.8 q0,3 -3,3 H661.5 q-1.2,0 -2,-0.8 L647.6,64.6 q-1.6,-1.8 0,-3.6 L659.5,48.8 q0.8,-0.8 2,-0.8z" fill="#fff" stroke="#b5dcf1" stroke-width="0.7"/>
<circle cx="666" cy="62.8" r="8" fill="#e22b26"/><rect x="665" y="57.8" width="2.1" height="6.2" rx="0.6" fill="#fff"/><circle cx="666" cy="66.8" r="1.3" fill="#fff"/>
<circle cx="684.3" cy="62.8" r="8" fill="#f49b1e"/><rect x="683.3" y="57.8" width="2.1" height="6.2" rx="0.6" fill="#fff"/><circle cx="684.3" cy="66.8" r="1.3" fill="#fff"/>
<path d="M651.7,62.2 q-8,1.5 -11.1,11.7" fill="none" stroke="#2d6e96" stroke-width="1.5" stroke-linecap="round"/>
<line x1="684.6" y1="22.8" x2="684.6" y2="54.5" stroke="#5aa9c8" stroke-width="0.7"/>
<line x1="666" y1="35.6" x2="666" y2="54.5" stroke="#5aa9c8" stroke-width="0.7"/>
<clipPath id="c3"><circle cx="628.3" cy="308.6" r="60.6"/></clipPath>
<g clip-path="url(#c3)"><polygon points="591.5,333.2 615,346 637.7,333 647,339.5 668.3,327.5 668.3,352 647,366 637.7,362 615,372 591.5,360" fill="#afd7f1" /></g>
<polygon points="626,297.5 644.9,284.7 668.3,297.5 647,309.2" fill="#4f9bcb" /><polygon points="626,297.5 647,309.2 647,339.5 626,329" fill="#ffffff" /><polygon points="647,309.2 668.3,297.5 668.3,327.5 647,339.5" fill="#e9e6f4" /><polygon points="626,304 647,315.5 647,317.3 626,305.9" fill="#d9daee" /><polygon points="647,315.5 668.3,303.7 668.3,305.5 647,317.3" fill="#cfd0ea" /><polygon points="626,305.9 647,317.3 647,318.7 626,307.4" fill="#4f9bcb" /><polygon points="647,317.3 668.3,305.5 668.3,306.9 647,318.7" fill="#4a93c3" /><polygon points="626,314.5 647,325.6 647,327.4 626,316.4" fill="#d9daee" /><polygon points="647,325.6 668.3,313.7 668.3,315.5 647,327.4" fill="#cfd0ea" /><polygon points="626,316.4 647,327.4 647,328.8 626,317.9" fill="#4f9bcb" /><polygon points="647,327.4 668.3,315.5 668.3,316.9 647,328.8" fill="#4a93c3" /><polygon points="626,325 647,335.7 647,337.5 626,326.9" fill="#d9daee" /><polygon points="647,335.7 668.3,323.7 668.3,325.5 647,337.5" fill="#cfd0ea" /><polygon points="626,326.9 647,337.5 647,338.9 626,328.4" fill="#4f9bcb" /><polygon points="647,337.5 668.3,325.5 668.3,326.9 647,338.9" fill="#4a93c3" /><polygon points="591.5,285.2 612.3,274.5 637.7,286.8 615,298" fill="#4f9bcb" /><polygon points="591.5,285.2 615,298 615,346 591.5,333.2" fill="#ffffff" /><polygon points="615,298 637.7,286.8 637.7,333 615,346" fill="#e9e6f4" /><polygon points="591.5,291.2 615,304 615,305.7 591.5,292.9" fill="#d9daee" /><polygon points="615,304 637.7,292.5 637.7,294.2 615,305.7" fill="#cfd0ea" /><polygon points="591.5,292.9 615,305.7 615,307.4 591.5,294.6" fill="#4f9bcb" /><polygon points="615,305.7 637.7,294.2 637.7,295.9 615,307.4" fill="#4a93c3" /><polygon points="591.5,300.8 615,313.6 615,315.3 591.5,302.5" fill="#d9daee" /><polygon points="615,313.6 637.7,301.8 637.7,303.4 615,315.3" fill="#cfd0ea" /><polygon points="591.5,302.5 615,315.3 615,317 591.5,304.2" fill="#4f9bcb" /><polygon points="615,315.3 637.7,303.4 637.7,305.1 615,317" fill="#4a93c3" /><polygon points="591.5,310.4 615,323.2 615,324.9 591.5,312.1" fill="#d9daee" /><polygon points="615,323.2 637.7,311 637.7,312.7 615,324.9" fill="#cfd0ea" /><polygon points="591.5,312.1 615,324.9 615,326.6 591.5,313.8" fill="#4f9bcb" /><polygon points="615,324.9 637.7,312.7 637.7,314.3 615,326.6" fill="#4a93c3" /><polygon points="591.5,320 615,332.8 615,334.5 591.5,321.7" fill="#d9daee" /><polygon points="615,332.8 637.7,320.2 637.7,321.9 615,334.5" fill="#cfd0ea" /><polygon points="591.5,321.7 615,334.5 615,336.2 591.5,323.4" fill="#4f9bcb" /><polygon points="615,334.5 637.7,321.9 637.7,323.6 615,336.2" fill="#4a93c3" /><polygon points="591.5,329.6 615,342.4 615,344.1 591.5,331.3" fill="#d9daee" /><polygon points="615,342.4 637.7,329.5 637.7,331.2 615,344.1" fill="#cfd0ea" /><polygon points="609.5,259.8 616.9,263.2 616.9,269.8 623.5,272.7 623.5,280.1 616.9,277.2 616.9,283.8 609.5,280.4 609.5,273.8 602.9,270.9 602.9,263.5 609.5,266.4" fill="#b5221d" /><polygon points="607.1,260.8 614.5,264.2 614.5,270.8 621.1,273.7 621.1,281.1 614.5,278.2 614.5,284.8 607.1,281.4 607.1,274.8 600.5,271.9 600.5,264.5 607.1,267.4" fill="#e6352b" />
<path d="M87,85 L58.8,135.8 M152,85 L182.5,135.8" fill="none" stroke="#a9d6ef" stroke-width="0.8" stroke-dasharray="2.2 2.2"/>
<path d="M177.3,139.4A1.9,1.9 0 0 0 175.9,136.1A2.3,2.3 0 0 0 173.1,133A3.1,3.1 0 0 0 169,130A4,4 0 0 0 163.7,127.4A5.1,5.1 0 0 0 157.3,125A5.7,5.7 0 0 0 150,123.1A6.1,6.1 0 0 0 142,121.6A6.5,6.5 0 0 0 133.4,120.6A6.7,6.7 0 0 0 124.5,120.1A6.8,6.8 0 0 0 115.5,120.1A6.7,6.7 0 0 0 106.6,120.6A6.5,6.5 0 0 0 98,121.6A6.1,6.1 0 0 0 90,123.1A5.7,5.7 0 0 0 82.7,125A5.1,5.1 0 0 0 76.3,127.4A4,4 0 0 0 71,130A3.1,3.1 0 0 0 66.9,133A2.3,2.3 0 0 0 64.1,136.1A1.9,1.9 0 0 0 62.7,139.4A1.7,1.7 0 0 0 62.7,142.6A1.9,1.9 0 0 0 64.1,145.9A2.3,2.3 0 0 0 66.9,149A3.1,3.1 0 0 0 71,152A4,4 0 0 0 76.3,154.6A5.1,5.1 0 0 0 82.7,157A5.7,5.7 0 0 0 90,158.9A6.1,6.1 0 0 0 98,160.4A6.5,6.5 0 0 0 106.6,161.4A6.7,6.7 0 0 0 115.5,161.9A6.8,6.8 0 0 0 124.5,161.9A6.7,6.7 0 0 0 133.4,161.4A6.5,6.5 0 0 0 142,160.4A6.1,6.1 0 0 0 150,158.9A5.7,5.7 0 0 0 157.3,157A5.1,5.1 0 0 0 163.7,154.6A4,4 0 0 0 169,152A3.1,3.1 0 0 0 173.1,149A2.3,2.3 0 0 0 175.9,145.9A1.9,1.9 0 0 0 177.3,142.6A1.7,1.7 0 0 0 177.3,139.4Z" fill="#fed11f"/>
<path d="M164.4,112.4Q165.3,111.3 167.1,110.6Q165.2,110.3 164.1,109.4A45.5,14.2 0 0 0 163.2,108Q163.1,106.7 164,105.1Q162.4,106 161,105.9A45.5,14.2 0 0 0 159.4,104.9Q158.9,103.7 159.4,101.9Q158.1,103.3 156.8,103.5A45.5,14.2 0 0 0 155,102.7Q154.3,101.6 154.5,99.7Q153.4,101.3 152.2,101.7A45.5,14.2 0 0 0 150.2,101.1Q149.4,100 149.5,98.2Q148.6,99.8 147.3,100.3A45.5,14.2 0 0 0 145.3,99.8Q144.4,98.8 144.4,97Q143.6,98.7 142.4,99.2A45.5,14.2 0 0 0 140.3,98.8Q139.4,97.9 139.2,96Q138.5,97.8 137.3,98.4A45.5,14.2 0 0 0 135.2,98.1Q134.3,97.2 134,95.4Q133.4,97.1 132.2,97.8A45.5,14.2 0 0 0 130.2,97.6Q129.2,96.8 128.9,94.9Q128.3,96.7 127.2,97.4A45.5,14.2 0 0 0 125.1,97.3Q124.1,96.5 123.7,94.7Q123.2,96.5 122.1,97.2A45.5,14.2 0 0 0 120,97.2Q119,96.4 118.5,94.6Q118.1,96.4 117,97.2A45.5,14.2 0 0 0 114.9,97.3Q113.8,96.5 113.3,94.7Q112.9,96.5 111.9,97.4A45.5,14.2 0 0 0 109.8,97.5Q108.7,96.8 108.1,95Q107.8,96.9 106.8,97.7A45.5,14.2 0 0 0 104.7,97.9Q103.6,97.3 102.9,95.5Q102.7,97.4 101.7,98.3A45.5,14.2 0 0 0 99.6,98.6Q98.5,97.9 97.7,96.2Q97.6,98.1 96.7,99A45.5,14.2 0 0 0 94.6,99.4Q93.4,98.9 92.6,97.2Q92.6,99 91.7,100A45.5,14.2 0 0 0 89.7,100.5Q88.5,100.1 87.5,98.4Q87.6,100.3 86.8,101.4A45.5,14.2 0 0 0 84.9,102Q83.6,101.6 82.5,100.1Q82.7,102 82.1,103.1A45.5,14.2 0 0 0 80.3,103.9Q79,103.8 77.6,102.4Q78.2,104.2 77.7,105.4A45.5,14.2 0 0 0 76.2,106.5Q74.9,106.8 73.2,105.9Q74.2,107.5 74.3,108.8A45.5,14.2 0 0 0 73.6,110.4Q72.7,111.5 70.9,112.2Q72.8,112.5 73.9,113.4A45.5,14.2 0 0 0 74.8,114.8Q74.9,116.1 74,117.7Q75.6,116.8 77,116.9A45.5,14.2 0 0 0 78.6,117.9Q79.1,119.1 78.6,120.9Q79.9,119.5 81.2,119.3A45.5,14.2 0 0 0 83,120.1Q83.7,121.2 83.5,123.1Q84.6,121.5 85.8,121.1A45.5,14.2 0 0 0 87.8,121.7Q88.6,122.8 88.5,124.6Q89.4,123 90.7,122.5A45.5,14.2 0 0 0 92.7,123Q93.6,124 93.6,125.8Q94.4,124.1 95.6,123.6A45.5,14.2 0 0 0 97.7,124Q98.6,124.9 98.8,126.8Q99.5,125 100.7,124.4A45.5,14.2 0 0 0 102.8,124.7Q103.7,125.6 104,127.4Q104.6,125.7 105.8,125A45.5,14.2 0 0 0 107.8,125.2Q108.8,126 109.1,127.9Q109.7,126.1 110.8,125.4A45.5,14.2 0 0 0 112.9,125.5Q113.9,126.3 114.3,128.1Q114.8,126.3 115.9,125.6A45.5,14.2 0 0 0 118,125.6Q119,126.4 119.5,128.2Q119.9,126.4 121,125.6A45.5,14.2 0 0 0 123.1,125.5Q124.2,126.3 124.7,128.1Q125.1,126.3 126.1,125.4A45.5,14.2 0 0 0 128.2,125.3Q129.3,126 129.9,127.8Q130.2,125.9 131.2,125.1A45.5,14.2 0 0 0 133.3,124.9Q134.4,125.5 135.1,127.3Q135.3,125.4 136.3,124.5A45.5,14.2 0 0 0 138.4,124.2Q139.5,124.9 140.3,126.6Q140.4,124.7 141.3,123.8A45.5,14.2 0 0 0 143.4,123.4Q144.6,123.9 145.4,125.6Q145.4,123.8 146.3,122.8A45.5,14.2 0 0 0 148.3,122.3Q149.5,122.7 150.5,124.4Q150.4,122.5 151.2,121.4A45.5,14.2 0 0 0 153.1,120.8Q154.4,121.2 155.5,122.7Q155.3,120.8 155.9,119.7A45.5,14.2 0 0 0 157.7,118.9Q159,119 160.4,120.4Q159.8,118.6 160.3,117.4A45.5,14.2 0 0 0 161.8,116.3Q163.1,116 164.8,116.9Q163.8,115.3 163.7,114A45.5,14.2 0 0 0 164.4,112.4Z" fill="#f8a31c"/>
<ellipse cx="119.6" cy="87" rx="32.6" ry="11" fill="#e8391c"/>
<path d="M88,84 q-1,-5 1.5,-8 q0.5,3 2,4 q0,-4 3,-7 q0,4 2,5.5 q0.5,-2 2,-3 l0,8z M151.5,84 q1,-5 -1.5,-8 q-0.5,3 -2,4 q0,-4 -3,-7 q0,4 -2,5.5 q-0.5,-2 -2,-3 l0,8z" fill="#e8391c"/>
<path d="M99.2,87 V64.6 H103.4 L104,48 H106.6 L107,64.6 H109.8 L110.4,48 H113.2 L113.8,64.6 H117.9 V73.8 L126.5,68.2 V73.8 L134.8,68.2 V73.8 L143.4,68.2 V87 Z" fill="#4d4843"/>
<rect x="103.2" y="73.6" width="10.8" height="12.6" fill="#3a3633"/>
<path d="M119.8,82 v-3 q1.6,-1.8 3.2,0 v3z" fill="#3a3633"/>
<path d="M126.6,82 v-3 q1.6,-1.8 3.2,0 v3z" fill="#3a3633"/>
<path d="M133.2,82 v-3 q1.6,-1.8 3.2,0 v3z" fill="#3a3633"/>
<line x1="129.5" y1="60.6" x2="207.5" y2="60.6" stroke="#3fabe0" stroke-width="1"/>
<line x1="159" y1="86" x2="207.5" y2="86" stroke="#3fabe0" stroke-width="1"/>
<line x1="172" y1="111" x2="207.5" y2="111" stroke="#3fabe0" stroke-width="1"/>
<line x1="189" y1="140" x2="207.5" y2="140" stroke="#3fabe0" stroke-width="1"/>
<circle cx="83.5" cy="184.7" r="17.5" fill="#c1e2f6"/>
<circle cx="156.6" cy="184.7" r="17.5" fill="#c1e2f6"/>
<polygon points="71.8,187.8 83.2,193 94.7,188.2 94.7,193 83.2,198 71.8,192.5" fill="#afd7f1" />
<polygon points="144.9,187.8 156.3,193 167.8,188.2 167.8,193 156.3,198 144.9,192.5" fill="#afd7f1" />
<polygon points="71.8,180.6 78,178.2 83.2,186.8 83.2,194.2 71.8,187.8" fill="#ffffff" /><polygon points="83.2,186.8 94.6,181.1 94.6,188.3 83.2,194.2" fill="#f0f4f9" /><polygon points="78,178.2 89,173.4 94.6,181.1 83.2,186.8" fill="#79b8e1" /><polygon points="72.2,179.7 88.8,172.8 89,173.4 78,178.2 72.6,180.9" fill="#3f93cd" /><polygon points="75.6,185.5 78,186.6 78,192.3 75.6,191.2" fill="#17161a" /><polygon points="86.4,187.9 88.9,186.8 88.9,190.1 86.4,191.2" fill="#10203a" /><polygon points="90.5,186.1 92.9,185 92.9,188.3 90.5,189.4" fill="#10203a" />
<polygon points="144.9,180.6 151.1,178.2 156.3,186.8 156.3,194.2 144.9,187.8" fill="#ffffff" /><polygon points="156.3,186.8 167.7,181.1 167.7,188.3 156.3,194.2" fill="#f0f4f9" /><polygon points="151.1,178.2 162.1,173.4 167.7,181.1 156.3,186.8" fill="#ef7427" /><polygon points="145.3,179.7 161.9,172.8 162.1,173.4 151.1,178.2 145.7,180.9" fill="#f6b68c" /><polygon points="148.7,185.5 151.1,186.6 151.1,192.3 148.7,191.2" fill="#17161a" /><polygon points="159.5,187.9 162,186.8 162,190.1 159.5,191.2" fill="#10203a" /><polygon points="163.6,186.1 166,185 166,188.3 163.6,189.4" fill="#10203a" />
<text x="47.6" y="40.8" font-size="35.4" fill="#0b72ba" font-weight="bold" font-style="normal" textLength="365.5" lengthAdjust="spacingAndGlyphs" >De aandachtsgebieden</text>
<text x="213.5" y="64" font-size="11.3" fill="#3a3a3a" font-weight="normal" font-style="italic" textLength="46" lengthAdjust="spacingAndGlyphs" >Risicobron</text>
<text x="213.5" y="89.3" font-size="11.3" fill="#3a3a3a" font-weight="normal" font-style="italic" textLength="26.5" lengthAdjust="spacingAndGlyphs" >Brand</text>
<text x="213.5" y="114.5" font-size="11.3" fill="#3a3a3a" font-weight="normal" font-style="italic" textLength="35.5" lengthAdjust="spacingAndGlyphs" >Explosie</text>
<text x="213.5" y="142.7" font-size="11.3" fill="#3a3a3a" font-weight="normal" font-style="italic" textLength="61.5" lengthAdjust="spacingAndGlyphs" >Giftige stoffen</text>
<text x="58.7" y="213.6" font-size="11.3" fill="#3a3a3a" font-weight="normal" font-style="italic" textLength="53.3" lengthAdjust="spacingAndGlyphs" >Nieuwbouw</text>
<text x="125.8" y="213.6" font-size="11.3" fill="#3a3a3a" font-weight="normal" font-style="italic" textLength="73.4" lengthAdjust="spacingAndGlyphs" >Bestaande bouw</text>
<text x="643.8" y="18.9" font-size="6.6" fill="#3a3a3a" font-weight="normal" font-style="italic" textLength="56.3" lengthAdjust="spacingAndGlyphs" >Explosievoorschriften</text>
<text x="626.9" y="32.5" font-size="6.6" fill="#3a3a3a" font-weight="normal" font-style="italic" textLength="50.3" lengthAdjust="spacingAndGlyphs" >Brandvoorschriften</text>
<text x="555" y="183.5" font-size="9" fill="#0f95d6" font-weight="bold" font-style="normal" textLength="145" lengthAdjust="spacingAndGlyphs" >Nieuwbouw in een aandachtsgebied</text>
<text x="555" y="193.5" font-size="7.3" fill="#3a3a3a" font-weight="normal" font-style="normal" textLength="131.5" lengthAdjust="spacingAndGlyphs" >Als de omgeving onvoldoende bescherming</text>
<text x="555" y="202.5" font-size="7.3" fill="#3a3a3a" font-weight="normal" font-style="normal" textLength="128" lengthAdjust="spacingAndGlyphs" >biedt, gelden extra bouwvoorschriften voor</text>
<text x="555" y="211.5" font-size="7.3" fill="#3a3a3a" font-weight="normal" font-style="normal" textLength="145.3" lengthAdjust="spacingAndGlyphs" >nieuwbouw als het gebied in het omgevingsplan</text>
<text x="555" y="220.5" font-size="7.3" fill="#3a3a3a" font-weight="normal" font-style="normal" textLength="142.4" lengthAdjust="spacingAndGlyphs" >is aangewezen als (bouw)voorschriftengebied.</text>
<text x="55" y="384.6" font-size="9" fill="#0f95d6" font-weight="bold" font-style="normal" textLength="92.5" lengthAdjust="spacingAndGlyphs" >Omgevingsmaatregelen</text>
<text x="55" y="393.5" font-size="7.3" fill="#3a3a3a" font-weight="normal" font-style="normal" textLength="124" lengthAdjust="spacingAndGlyphs" >Kunnen bestaande én nieuwe bebouwing</text>
<text x="55" y="403" font-size="7.3" fill="#3a3a3a" font-weight="normal" font-style="normal" textLength="127.5" lengthAdjust="spacingAndGlyphs" >beschermen, bijvoorbeeld een aarden wal.</text>
<text x="328" y="384.4" font-size="9" fill="#0f95d6" font-weight="bold" font-style="normal" textLength="63.3" lengthAdjust="spacingAndGlyphs" >Bestaande bouw</text>
<text x="328" y="394" font-size="7.3" fill="#3a3a3a" font-weight="normal" font-style="normal" textLength="63.2" lengthAdjust="spacingAndGlyphs" >Hiervoor gelden geen</text>
<text x="328" y="403" font-size="7.3" fill="#3a3a3a" font-weight="normal" font-style="normal" textLength="74.6" lengthAdjust="spacingAndGlyphs" >extra bouwvoorschriften.</text>
<text x="514" y="384" font-size="9" fill="#0f95d6" font-weight="bold" font-style="normal" textLength="186" lengthAdjust="spacingAndGlyphs" >Nieuwbouw voor minder zelfredzame groepen</text>
<text x="514" y="393.5" font-size="7.3" fill="#3a3a3a" font-weight="normal" font-style="normal" textLength="183" lengthAdjust="spacingAndGlyphs" >Bij voorkeur buiten aandachtsgebieden toelaten, daarbinnen</text>
<text x="514" y="403" font-size="7.3" fill="#3a3a3a" textLength="169" lengthAdjust="spacingAndGlyphs">gelden <tspan font-weight="bold">altijd</tspan> extra bouwvoorschriften voor nieuwbouw</text>
<text x="514" y="412.3" font-size="7.3" fill="#3a3a3a" font-weight="normal" font-style="normal" textLength="137" lengthAdjust="spacingAndGlyphs" >(verplichte aanwijzing in het omgevingsplan).</text>
</svg>
</body></html>
